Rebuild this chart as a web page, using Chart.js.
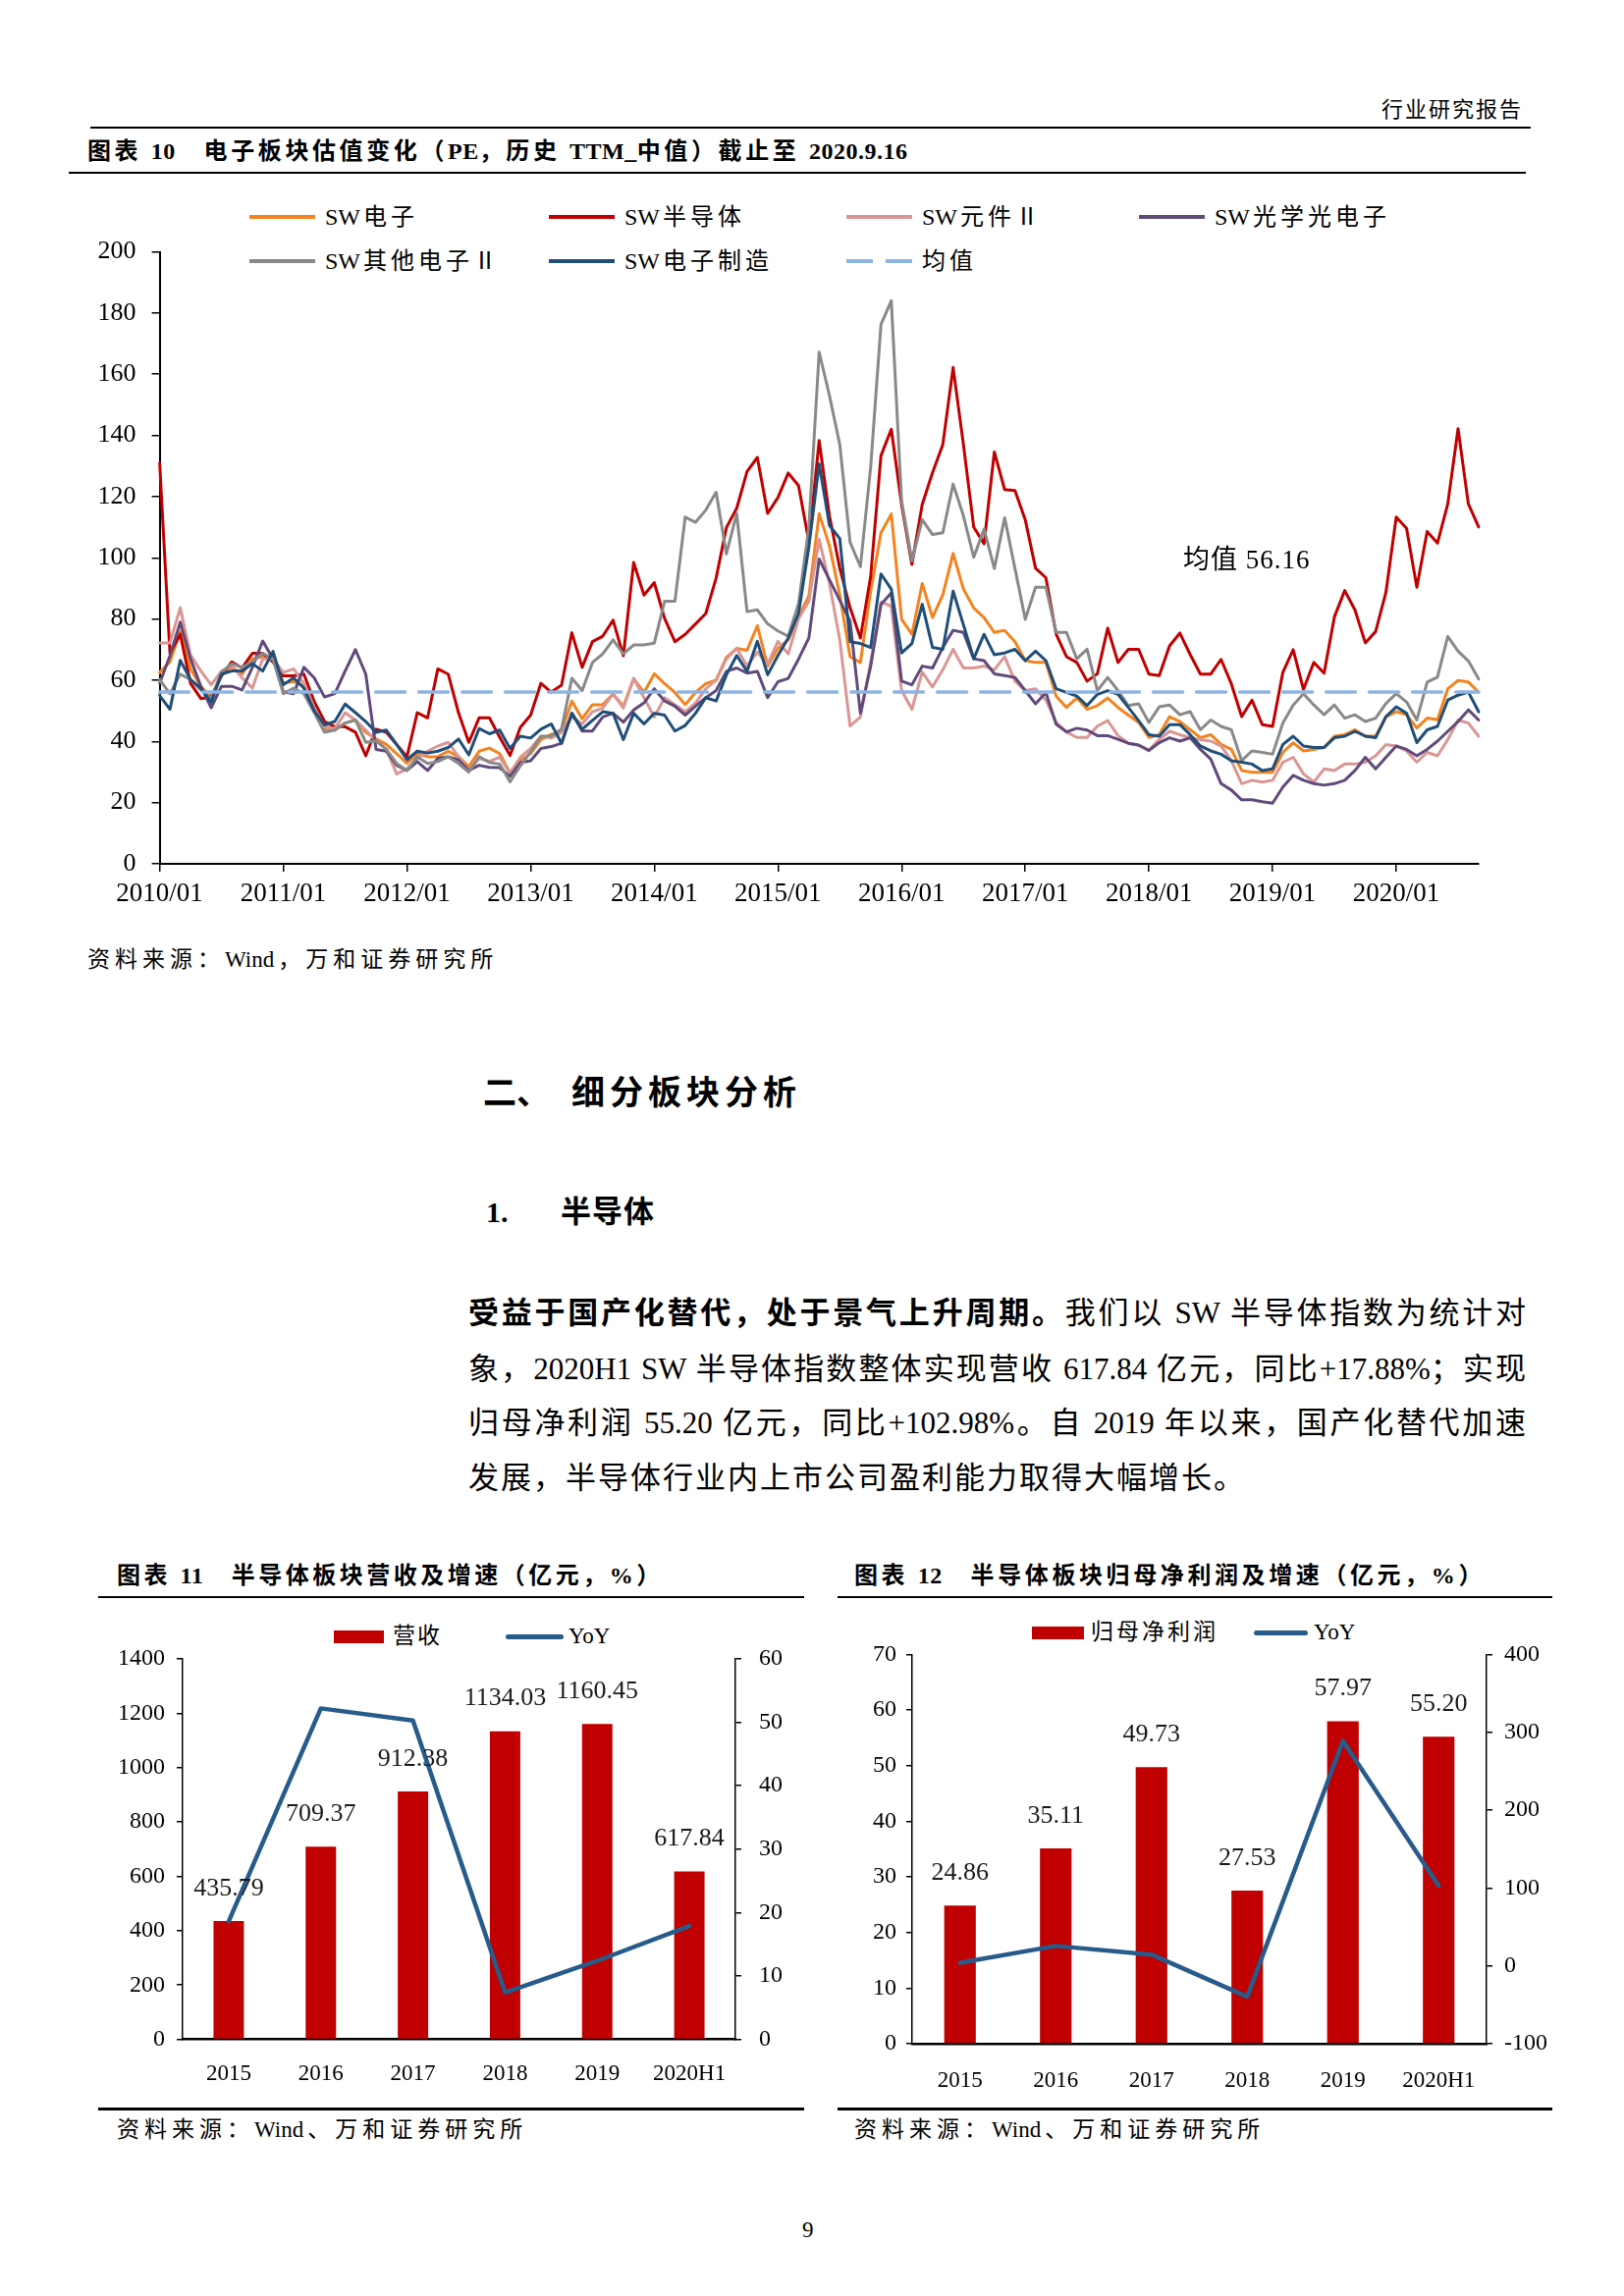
<!DOCTYPE html>
<html lang="zh-CN">
<head>
<meta charset="utf-8">
<title>电子板块估值变化</title>
<script src="https://cdn.jsdelivr.net/npm/chart.js@4.4.1/dist/chart.umd.min.js"></script>
<style>
html,body{margin:0;padding:0;background:#fff;}
#page{position:relative;width:1654px;height:2339px;overflow:hidden;background:#fff;color:#000;
  font-family:"Liberation Serif","Noto Sans CJK SC",serif;}
.t{position:absolute;white-space:nowrap;}
.b{font-weight:bold;}
.rule{position:absolute;background:#000;}
canvas{position:absolute;}
.p{position:absolute;left:477px;width:1077px;font-size:31px;line-height:40px;text-align:justify;text-align-last:justify;}
.p.last{text-align:left;text-align-last:left;letter-spacing:2px;}
.lgline{position:absolute;height:4px;}
.lgtext{position:absolute;white-space:nowrap;font-size:24px;line-height:26px;}
.lgtext .cj{letter-spacing:4px;margin-left:3px;}
.lgtext2{position:absolute;white-space:nowrap;font-size:23px;line-height:26px;}
.src{position:absolute;white-space:nowrap;font-size:23px;line-height:26px;letter-spacing:5px;}
.src .la{letter-spacing:0;margin-right:4px;}
.nl{letter-spacing:0.5px;}
</style>
</head>
<body>
<div id="page">
  <div class="t" style="right:103px;top:100px;font-size:22px;line-height:24px;letter-spacing:2px;">行业研究报告</div>
  <div class="rule" style="left:92px;top:129px;width:1467px;height:2px;"></div>
  <div class="t b" style="left:89px;top:141px;font-size:24px;line-height:26px;letter-spacing:3.6px;">图表 <span class="nl">10</span>&nbsp;&nbsp;&nbsp;电子板块估值变化（<span class="nl">PE</span>，历史 <span class="nl">TTM_</span>中值）截止至 <span class="nl">2020.9.16</span></div>
  <div class="rule" style="left:70px;top:175px;width:1484px;height:2px;"></div>

  <div id="legend10"></div>
  <canvas id="c10" width="1500" height="770" style="left:60px;top:190px;"></canvas>
  <div id="meanNote" class="t" style="left:1205px;top:555px;font-size:27px;line-height:30px;letter-spacing:1px;"></div>
  <div class="src" style="left:89px;top:965px;">资料来源：<span class="la">Wind</span>，万和证券研究所</div>

  <div class="t b" style="left:492px;top:1096px;font-size:34px;line-height:36px;">二、</div>
  <div class="t b" style="left:582px;top:1096px;font-size:34px;line-height:36px;letter-spacing:5px;">细分板块分析</div>
  <div class="t b" style="left:495px;top:1218px;font-size:30px;line-height:34px;">1.</div>
  <div class="t b" style="left:571px;top:1218px;font-size:31px;line-height:34px;letter-spacing:1px;">半导体</div>

  <div class="p" style="top:1318px;"><b>受益于国产化替代，处于景气上升周期。</b>我们以 SW 半导体指数为统计对</div>
  <div class="p" style="top:1375px;">象，2020H1 SW 半导体指数整体实现营收 617.84 亿元，同比+17.88%；实现</div>
  <div class="p" style="top:1430px;">归母净利润 55.20 亿元，同比+102.98%。自 2019 年以来，国产化替代加速</div>
  <div class="p last" style="top:1486px;">发展，半导体行业内上市公司盈利能力取得大幅增长。</div>

  <div class="t b" style="left:119px;top:1592px;font-size:24px;line-height:26px;letter-spacing:3.5px;">图表 <span class="nl">11</span>&nbsp;&nbsp;&nbsp;半导体板块营收及增速（亿元，%）</div>
  <div class="rule" style="left:100px;top:1626px;width:719px;height:2px;"></div>
  <div style="position:absolute;left:340px;top:1661px;width:51px;height:13px;background:#C00000;"></div>
  <div class="lgtext2" style="left:400px;top:1654px;letter-spacing:2px;">营收</div>
  <div style="position:absolute;left:515px;top:1665px;width:59px;height:5px;border-radius:3px;background:#275B8A;"></div>
  <div class="lgtext2" style="left:579px;top:1654px;">YoY</div>
  <canvas id="c11" width="720" height="500" style="left:100px;top:1640px;"></canvas>
  <div class="rule" style="left:100px;top:2147px;width:719px;height:3px;"></div>
  <div class="src" style="left:119px;top:2157px;">资料来源：<span class="la">Wind</span>、万和证券研究所</div>

  <div class="t b" style="left:870px;top:1592px;font-size:24px;line-height:26px;letter-spacing:3.6px;">图表 <span class="nl">12</span>&nbsp;&nbsp;&nbsp;半导体板块归母净利润及增速（亿元，%）</div>
  <div class="rule" style="left:853px;top:1626px;width:728px;height:2px;"></div>
  <div style="position:absolute;left:1051px;top:1657px;width:53px;height:13px;background:#C00000;"></div>
  <div class="lgtext2" style="left:1111px;top:1650px;letter-spacing:3px;">归母净利润</div>
  <div style="position:absolute;left:1277px;top:1661px;width:55px;height:5px;border-radius:3px;background:#275B8A;"></div>
  <div class="lgtext2" style="left:1338px;top:1650px;">YoY</div>
  <canvas id="c12" width="730" height="500" style="left:853px;top:1640px;"></canvas>
  <div class="rule" style="left:853px;top:2147px;width:728px;height:3px;"></div>
  <div class="src" style="left:870px;top:2157px;">资料来源：<span class="la">Wind</span>、万和证券研究所</div>

  <div class="t" style="left:817px;top:2260px;font-size:23px;line-height:24px;">9</div>
</div>

<script>
// ---------- Chart 10 data: monthly PE (TTM, median), 2010/01 – 2020/09 ----------
const swElectronics = [
  62.5, 66, 76, 63.7, 58, 54.5, 62, 64.2, 62, 67, 67.7, 68,
  59, 59.6, 58, 51, 44, 43.7, 46, 47, 43, 40.8, 39, 36,
  32.8, 36, 35, 35, 36.8, 35, 31.7, 36.8, 37.8, 36, 29.7, 33.7,
  36, 40.6, 42.3, 43.4, 53.2, 47.4, 52, 52, 55.5, 51.5, 60.5, 56,
  62.1, 58.9, 56, 52, 56, 58.9, 60, 67.5, 70.4, 69.8, 77.8, 64.6,
  70.4, 73.2, 80.7, 87.5, 114.4, 103.9, 87.9, 67.7, 65.8, 89.1, 108.2, 114.3,
  79.9, 75, 91.6, 80.5, 87.9, 101.4, 89.8, 83.6, 80.5, 75.6, 76.3, 72.6,
  66.4, 65.8, 65.8, 54.8, 51.1, 54.2, 50.5, 51.7, 54.2, 51.1, 48.6, 46.2,
  41.3, 42.2, 48.1, 46.5, 43.8, 41.2, 42.2, 39, 37.4, 30.5, 29.9, 29.9,
  29.9, 36.4, 39.6, 36.9, 37.4, 38, 41.7, 42.2, 43.8, 41.7, 41.7, 48.1,
  49.7, 48.7, 44.4, 47.6, 47.1, 57.2, 59.9, 59.4, 56.1
];
const swSemiconductor = [
  131, 68.8, 75, 59, 54, 54.5, 61.4, 66, 64, 68.8, 68.8, 66,
  61.4, 61.4, 62, 53, 46.5, 44.8, 44.8, 43, 35.3, 44, 43, 39,
  35, 49.4, 47.7, 63.7, 62, 49.4, 39.7, 47.7, 47.7, 41.4, 35.4, 44.6,
  48.6, 59, 56.1, 58.4, 75.5, 64.2, 72.6, 74.4, 79.6, 68, 98.5, 87.8,
  91.9, 80.2, 72.6, 75, 78.4, 81.8, 93.4, 109.9, 116.2, 128.2, 132.8, 114.5,
  119.7, 127.7, 123.6, 105.3, 138.3, 113.7, 96.6, 83.7, 73.8, 94, 133.4, 142,
  117.4, 97.8, 117.4, 127.8, 137, 162.2, 137, 110, 104.6, 134.6, 122.3, 122,
  112.4, 96.6, 93.5, 75, 67.7, 65.8, 59.7, 62.1, 77, 65.8, 70.1, 70.1,
  62, 61.5, 71.2, 75.4, 68.4, 62, 62, 66.8, 58.8, 48.1, 53.5, 45.5,
  44.9, 62.6, 70, 57, 65.8, 62.3, 80.7, 89.3, 82.9, 72.2, 75.9, 88.7,
  113.3, 109.6, 90.4, 108.6, 104.8, 117.6, 142.2, 117.6, 110.1
];
const swComponents = [
  72.2, 72.2, 83.7, 68.2, 63, 58.5, 63, 64.8, 60.8, 57.4, 67, 67,
  62.5, 63.7, 59, 51, 44.8, 44.2, 49.4, 47, 43.7, 40.2, 37.4, 29.4,
  31, 34.5, 36.8, 38.5, 39.7, 35, 30.5, 34.5, 33.5, 34.8, 29.7, 34.8,
  37.7, 41.7, 41.1, 42.9, 48, 45.7, 49.7, 50.9, 55.5, 50.9, 60.6, 54.3,
  48, 54.3, 52, 49.7, 52.6, 57.2, 60, 66.9, 70.4, 64.6, 69.2, 65.2,
  72.7, 68.6, 80.1, 85.8, 106, 91.6, 73.2, 45, 48, 65.8, 85.5, 84.2,
  56.6, 50.5, 62.7, 57.8, 63.4, 70.1, 64, 64, 64.6, 63.4, 67.7, 59.7,
  56.6, 57.2, 53.5, 46.2, 43.1, 41.3, 41.3, 45, 46.8, 41.9, 39.4, 38.8,
  37.2, 40.6, 43.3, 42.2, 41.2, 40.6, 40.1, 38.5, 33.7, 26.2, 27.3, 26.7,
  27.3, 33.2, 34.8, 29.4, 26.7, 31, 30.5, 32.6, 32.6, 33.2, 35.3, 39,
  38.5, 36.9, 33.2, 36.4, 35.3, 40.6, 47, 46, 41.7
];
const swOptoelectronics = [
  59, 68, 79, 67, 58, 51, 58, 58, 56.8, 64.2, 72.8, 67,
  56.2, 55.6, 64.2, 60.8, 54.5, 55.6, 63, 70, 62, 37.4, 36.8, 32.2,
  30.5, 33.4, 30.5, 34.5, 35, 34, 30.5, 32.2, 31.5, 31.4, 28.6, 33.1,
  33.7, 37.7, 38.3, 39.4, 49.2, 43.4, 43.4, 48, 49.2, 46.3, 50.3, 52.6,
  57.2, 53.2, 51.5, 48.6, 51.5, 54.3, 56.6, 62.9, 64, 62.3, 62.9, 54.3,
  59.5, 60.6, 66.9, 73.8, 99.6, 92.8, 86.1, 79.3, 49.2, 64.6, 84.8, 88.5,
  59.7, 58.5, 64.6, 64, 70.7, 76.3, 75.6, 67, 66.4, 62.1, 61.5, 60.9,
  56.6, 52.3, 56, 45.6, 43.1, 44.3, 43.7, 41.9, 41.9, 40.7, 39.4, 38.8,
  37, 39.6, 41.2, 40.1, 41.2, 37.4, 34.2, 26.2, 24.1, 20.9, 20.9, 20.3,
  19.8, 25.1, 28.9, 27.3, 26.2, 25.7, 26.2, 27.3, 30.5, 34.8, 31, 34.8,
  38.5, 37.4, 35.3, 37.4, 40.1, 43.3, 46.5, 50.3, 47
];
const swOtherElectronics = [
  60.2, 55.6, 62, 60.2, 56.8, 54, 62.5, 65.4, 64.2, 66, 68.8, 67,
  55.6, 57.4, 55.6, 49.4, 43, 43.7, 46, 47, 39.7, 40.2, 37.4, 32.8,
  30.5, 35, 32.8, 33.4, 35, 32.8, 30, 35, 33.1, 32.6, 26.8, 32,
  36.6, 41.7, 41.7, 44, 60.6, 56.6, 65.8, 68.6, 73.2, 68.6, 71.5, 71.5,
  72.1, 85.8, 85.8, 113.3, 111.6, 115.6, 121.4, 101.3, 114.5, 82.4, 83, 78.4,
  76.1, 74.4, 85, 110, 167.2, 153, 137, 105.1, 97.1, 129.7, 176.3, 184,
  118.6, 99, 112.5, 107.6, 108.2, 124.1, 113.7, 100.2, 109.4, 96.5, 113.1, 96.5,
  79.9, 90.4, 90.4, 75.6, 75.6, 67, 70.1, 56.6, 60.9, 56.6, 51.7, 52.3,
  46.2, 51.3, 51.9, 48.7, 49.7, 43.8, 47, 44.9, 43.8, 33.7, 36.9, 36.4,
  35.8, 46, 51.9, 55.6, 51.9, 48.7, 51.9, 47.6, 48.7, 46.5, 47.6, 52.4,
  55.6, 52.9, 47, 59.4, 61, 74.3, 69.5, 66.3, 60.4
];
const swManufacturing = [
  55, 50.5, 66.5, 60.2, 57.4, 52.8, 62, 63, 63, 65.4, 63, 69.4,
  58.5, 60.8, 57.4, 50, 45.4, 46.5, 52.2, 49.4, 46.5, 43, 43.7, 39,
  34, 36.8, 36.2, 36.8, 38, 40.8, 35.6, 44.2, 42.5, 43.7, 37.7, 41.7,
  41.1, 44, 45.7, 39.4, 49.2, 44, 46.9, 49.7, 49.2, 40.6, 49.2, 45.7,
  49.2, 48.6, 43.4, 45.2, 49.2, 54.3, 53.2, 61.8, 68.1, 62.9, 72.7, 61.8,
  68.1, 73.8, 81.8, 103.6, 130.7, 110.6, 106.3, 72.6, 72, 70.7, 94.7, 89.8,
  68.9, 72, 84.8, 70.7, 70.1, 89.1, 78.1, 67, 75, 68.3, 68.9, 70.1,
  66.4, 69.5, 66.4, 57.2, 56, 54.8, 51.7, 55.4, 56.6, 55.4, 51.1, 46.8,
  42.2, 41.7, 45.5, 45.5, 42.2, 38.5, 36.9, 35.8, 33.7, 33.2, 32.6, 30.5,
  31, 39, 41.7, 38.5, 38, 38, 41.2, 41.7, 43.3, 41.7, 41.2, 48.1,
  51.3, 49.2, 39.6, 43.8, 44.9, 53.5, 55.1, 56.1, 49.7
];
const meanPE = 56.16;
const yearTickLabels = ['2010/01','2011/01','2012/01','2013/01','2014/01','2015/01','2016/01','2017/01','2018/01','2019/01','2020/01'];

// ---------- Chart 11 / 12 data ----------
const periods = ['2015', '2016', '2017', '2018', '2019', '2020H1'];
const revenue = [435.79, 709.37, 912.38, 1134.03, 1160.45, 617.84];
const revenueYoY = [18.6, 52.2, 50.3, 7.4, 12.4, 17.88];
const netProfit = [24.86, 35.11, 49.73, 27.53, 57.97, 55.20];
const netProfitYoY = [4.0, 25.6, 14.5, -39.6, 288.9, 102.98];

// month category labels 2010/01 .. 2020/09
const months = [];
for (let y = 2010; y <= 2020; y++) {
  for (let m = 1; m <= 12; m++) {
    if (y === 2020 && m > 9) break;
    months.push(y + '/' + String(m).padStart(2, '0'));
  }
}

const series10 = [
  { name: 'SW电子', data: swElectronics, color: '#F4831F' },
  { name: 'SW半导体', data: swSemiconductor, color: '#C00000' },
  { name: 'SW元件Ⅱ', data: swComponents, color: '#DA9694' },
  { name: 'SW光学光电子', data: swOptoelectronics, color: '#604A7B' },
  { name: 'SW其他电子Ⅱ', data: swOtherElectronics, color: '#898989' },
  { name: 'SW电子制造', data: swManufacturing, color: '#1F4E79' }
];
const meanName = '均值';
const meanColor = '#8EB4E3';

Chart.defaults.font.family = '"Liberation Serif","Noto Sans CJK SC",serif';
Chart.defaults.color = '#000';
Chart.defaults.animation = false;

// ---------- legend for chart 10 (HTML, 4 columns) ----------
(function () {
  const host = document.getElementById('legend10');
  const cols = [254, 559, 862, 1160];
  const rows = [221, 265.5];
  const items = series10.map(s => ({ name: s.name, color: s.color, dashed: false }));
  items.push({ name: meanName, color: meanColor, dashed: true });
  items.forEach((it, i) => {
    const x = cols[i % 4], y = rows[Math.floor(i / 4)];
    let mark;
    if (it.dashed) {
      mark = document.createElementNS('http://www.w3.org/2000/svg', 'svg');
      mark.setAttribute('width', '67'); mark.setAttribute('height', '6');
      mark.style.position = 'absolute'; mark.style.left = x + 'px'; mark.style.top = (y - 3) + 'px';
      mark.innerHTML = '<line x1="0" y1="3" x2="67" y2="3" stroke="' + it.color + '" stroke-width="4" stroke-dasharray="27 13"/>';
    } else {
      mark = document.createElement('div');
      mark.className = 'lgline';
      mark.style.left = x + 'px'; mark.style.top = (y - 2) + 'px'; mark.style.width = '67px';
      mark.style.background = it.color;
    }
    host.appendChild(mark);
    const tx = document.createElement('div');
    tx.className = 'lgtext';
    tx.style.left = (x + 77) + 'px'; tx.style.top = (y - 13) + 'px';
    const parts = it.name.match(/^(SW)?(.*)$/);
    if (parts[1]) tx.appendChild(document.createTextNode(parts[1]));
    const cj = document.createElement('span');
    cj.className = 'cj';
    if (!parts[1]) cj.style.marginLeft = '0';
    cj.textContent = parts[2];
    tx.appendChild(cj);
    host.appendChild(tx);
  });
  document.getElementById('meanNote').textContent = meanName + ' ' + meanPE.toFixed(2);
})();

// ---------- Chart 10 ----------
const ds10 = [{
  label: meanName,
  data: [{ x: months[0], y: meanPE }, { x: months[months.length - 1], y: meanPE }],
  borderColor: meanColor, borderWidth: 3.5, borderDash: [30, 14], order: 0
}];
series10.slice().reverse().forEach((s, i) => {
  ds10.push({ label: s.name, data: s.data, borderColor: s.color, borderWidth: 3, order: i + 1 });
});

new Chart(document.getElementById('c10'), {
  type: 'line',
  data: { labels: months, datasets: ds10 },
  options: {
    responsive: false, animation: false, devicePixelRatio: 1,
    layout: { padding: { left: 0, top: 66.5, right: 54, bottom: 0 } },
    plugins: { legend: { display: false }, tooltip: { enabled: false } },
    elements: { point: { radius: 0 }, line: { tension: 0, borderJoinStyle: 'round', borderCapStyle: 'round' } },
    scales: {
      x: {
        type: 'category', offset: false,
        afterFit: s => { s.height = 80; },
        grid: { drawOnChartArea: false, tickLength: 8, lineWidth: 1.5,
          color: c => (c.index % 12 === 0 ? '#000' : 'rgba(0,0,0,0)') },
        border: { color: '#000', width: 2 },
        ticks: { autoSkip: false, maxRotation: 0, minRotation: 0, padding: 7, font: { size: 27 },
          callback: (v, i) => (i % 12 === 0 ? yearTickLabels[i / 12] : '') }
      },
      y: {
        min: 0, max: 200,
        afterFit: s => { s.width = 102.6; },
        ticks: { stepSize: 20, padding: 16, font: { size: 26 }, callback: v => String(v) },
        grid: { drawOnChartArea: false, tickLength: 8, lineWidth: 1.5, color: '#000' },
        border: { color: '#000', width: 2 }
      }
    }
  }
});

// ---------- bar value labels plugin ----------
const barLabelPlugin = {
  id: 'barLabels',
  afterDatasetsDraw(chart, args, opts) {
    const idx = opts.datasetIndex;
    const meta = chart.getDatasetMeta(idx);
    const values = chart.data.datasets[idx].data;
    const ctx = chart.ctx;
    ctx.save();
    ctx.font = opts.font;
    ctx.fillStyle = opts.color;
    ctx.textAlign = 'center';
    ctx.textBaseline = 'middle';
    meta.data.forEach((el, i) => {
      ctx.fillText(values[i].toFixed(2), el.x, el.y - opts.offset);
    });
    ctx.restore();
  }
};

function comboChart(id, barName, barData, yoyData, leftMax, leftStep, rightMin, rightMax, rightStep, geom) {
  return new Chart(document.getElementById(id), {
    type: 'bar',
    data: {
      labels: periods,
      datasets: [
        { type: 'line', label: 'YoY', data: yoyData, yAxisID: 'y1', borderColor: '#275B8A', borderWidth: 4.5,
          pointRadius: 0, borderCapStyle: 'round', borderJoinStyle: 'round', tension: 0, order: 0 },
        { type: 'bar', label: barName, data: barData, yAxisID: 'y', backgroundColor: '#C00000',
          barPercentage: 0.33, categoryPercentage: 1, order: 1 }
      ]
    },
    options: {
      responsive: false, animation: false, devicePixelRatio: 1,
      layout: { padding: { top: geom.top, left: 0, right: 0, bottom: 0 } },
      plugins: {
        legend: { display: false }, tooltip: { enabled: false },
        barLabels: { datasetIndex: 1, font: '26px "Liberation Serif"', color: '#1a1a1a', offset: 33 }
      },
      scales: {
        x: {
          afterFit: s => { s.height = geom.xh; },
          grid: { display: false },
          border: { color: '#000', width: 2.5 },
          ticks: { padding: geom.xpad, font: { size: 23 } }
        },
        y: {
          position: 'left', min: 0, max: leftMax,
          afterFit: s => { s.width = geom.lw; },
          ticks: { stepSize: leftStep, padding: geom.lpad, font: { size: 24 }, callback: v => String(v) },
          grid: { drawOnChartArea: false, tickLength: 6, lineWidth: 1.5, color: '#000' },
          border: { color: '#000', width: 1.5 }
        },
        y1: {
          position: 'right', min: rightMin, max: rightMax,
          afterFit: s => { s.width = geom.rw; },
          ticks: { stepSize: rightStep, padding: geom.rpad, font: { size: 24 }, callback: v => String(v) },
          grid: { drawOnChartArea: false, tickLength: 6, lineWidth: 1.5, color: '#000' },
          border: { color: '#000', width: 1.5 }
        }
      }
    },
    plugins: [barLabelPlugin]
  });
}

comboChart('c11', '营收', revenue, revenueYoY, 1400, 200, 0, 60, 10,
  { top: 50, xh: 62.4, xpad: 14, lw: 86, lpad: 12, rw: 71, rpad: 18 });
comboChart('c12', '归母净利润', netProfit, netProfitYoY, 70, 10, -100, 400, 100,
  { top: 45.4, xh: 58, xpad: 16, lw: 76, lpad: 10, rw: 69, rpad: 12 });
</script>
</body>
</html>
